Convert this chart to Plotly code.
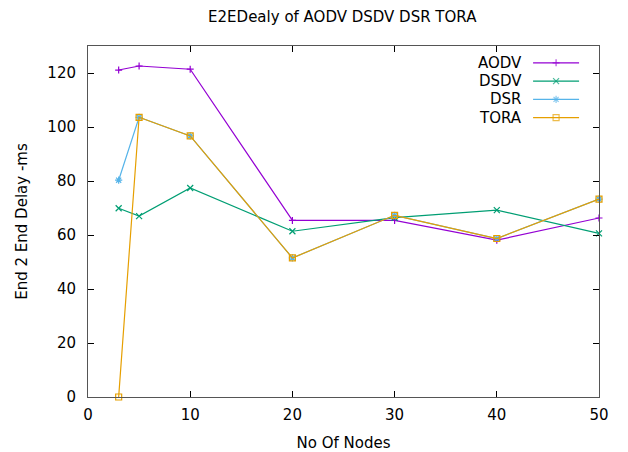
import plotly.graph_objects as go

nodes = [3, 5, 10, 20, 30, 40, 50]
aodv = [121.1, 122.6, 121.4, 65.4, 65.4, 58.1, 66.3]
dsdv = [69.9, 67.0, 77.4, 61.4, 66.4, 69.2, 60.6]
dsr = [80.3, 103.6, 96.7, 51.5, 67.3, 58.7, 73.3]
tora = [0.0, 103.6, 96.7, 51.5, 67.3, 58.7, 73.3]

series_names = ["AODV", "DSDV", "DSR", "TORA"]
series_values = [aodv, dsdv, dsr, tora]
colors = ["#9400d3", "#009e73", "#56b4e9", "#e69f00"]
symbols = ["cross-thin-open", "x-thin-open", "asterisk-open", "square-open"]
sizes = [5, 6, 6, 6]

x_ticks = [0, 10, 20, 30, 40, 50]
y_ticks = [0, 20, 40, 60, 80, 100, 120]

FONT = "DejaVu Sans, Liberation Sans, sans-serif"

fig = go.Figure()
for name, vals, c, s, sz in zip(series_names, series_values, colors, symbols, sizes):
    fig.add_trace(go.Scatter(
        x=nodes, y=vals, mode="lines+markers", name=name,
        line=dict(color=c, width=1.2),
        marker=dict(symbol=s, size=sz, color=c, line=dict(color=c, width=1.2)),
        showlegend=False, cliponaxis=False,
    ))

# custom gnuplot-style legend (label left, sample right)
leg_x0, leg_x1 = 0.871, 0.961
leg_rows = [0.952, 0.900, 0.848, 0.796]
for name, c, s, sz, ly in zip(series_names, colors, symbols, sizes, leg_rows):
    fig.add_trace(go.Scatter(
        x=[leg_x0, (leg_x0 + leg_x1) / 2, leg_x1], y=[ly, ly, ly],
        xaxis="x2", yaxis="y2", mode="lines+markers",
        line=dict(color=c, width=1.2),
        marker=dict(symbol=s, size=[0, sz, 0], color=c, line=dict(color=c, width=1.2)),
        showlegend=False, hoverinfo="skip",
    ))
    fig.add_annotation(
        x=0.853, y=ly, xref="paper", yref="paper", text=name, showarrow=False,
        xanchor="right", yanchor="middle", font=dict(family=FONT, size=15, color="#000"),
    )

axis_common = dict(
    showgrid=False, zeroline=False, ticks="inside", ticklen=6, tickwidth=1,
    tickcolor="#000", showline=True, linecolor="#555", linewidth=1, mirror="ticks",
    tickfont=dict(family=FONT, size=15, color="#000"), automargin=False,
)

fig.update_layout(
    width=628, height=452,
    margin=dict(l=88, r=29, t=46, b=55),
    paper_bgcolor="white", plot_bgcolor="white",
    title=dict(text="E2EDealy of AODV DSDV DSR TORA", x=0.545, xanchor="center",
               y=0.963, yanchor="middle",
               font=dict(family=FONT, size=15, color="#000")),
    xaxis=dict(range=[0, 50], tickvals=x_ticks, ticklabelstandoff=4,
               title=dict(text="No Of Nodes", font=dict(family=FONT, size=15, color="#000"), standoff=15),
               **axis_common),
    yaxis=dict(range=[0, 130], tickvals=y_ticks, ticklabelstandoff=8,
               title=dict(text="End 2 End Delay -ms", font=dict(family=FONT, size=15, color="#000"), standoff=16),
               **axis_common),
    xaxis2=dict(overlaying="x", range=[0, 1], visible=False, fixedrange=True),
    yaxis2=dict(overlaying="y", range=[0, 1], visible=False, fixedrange=True),
)

fig.write_html("out.html", config={"displayModeBar": False},
               post_script="document.body.style.margin='0';")
